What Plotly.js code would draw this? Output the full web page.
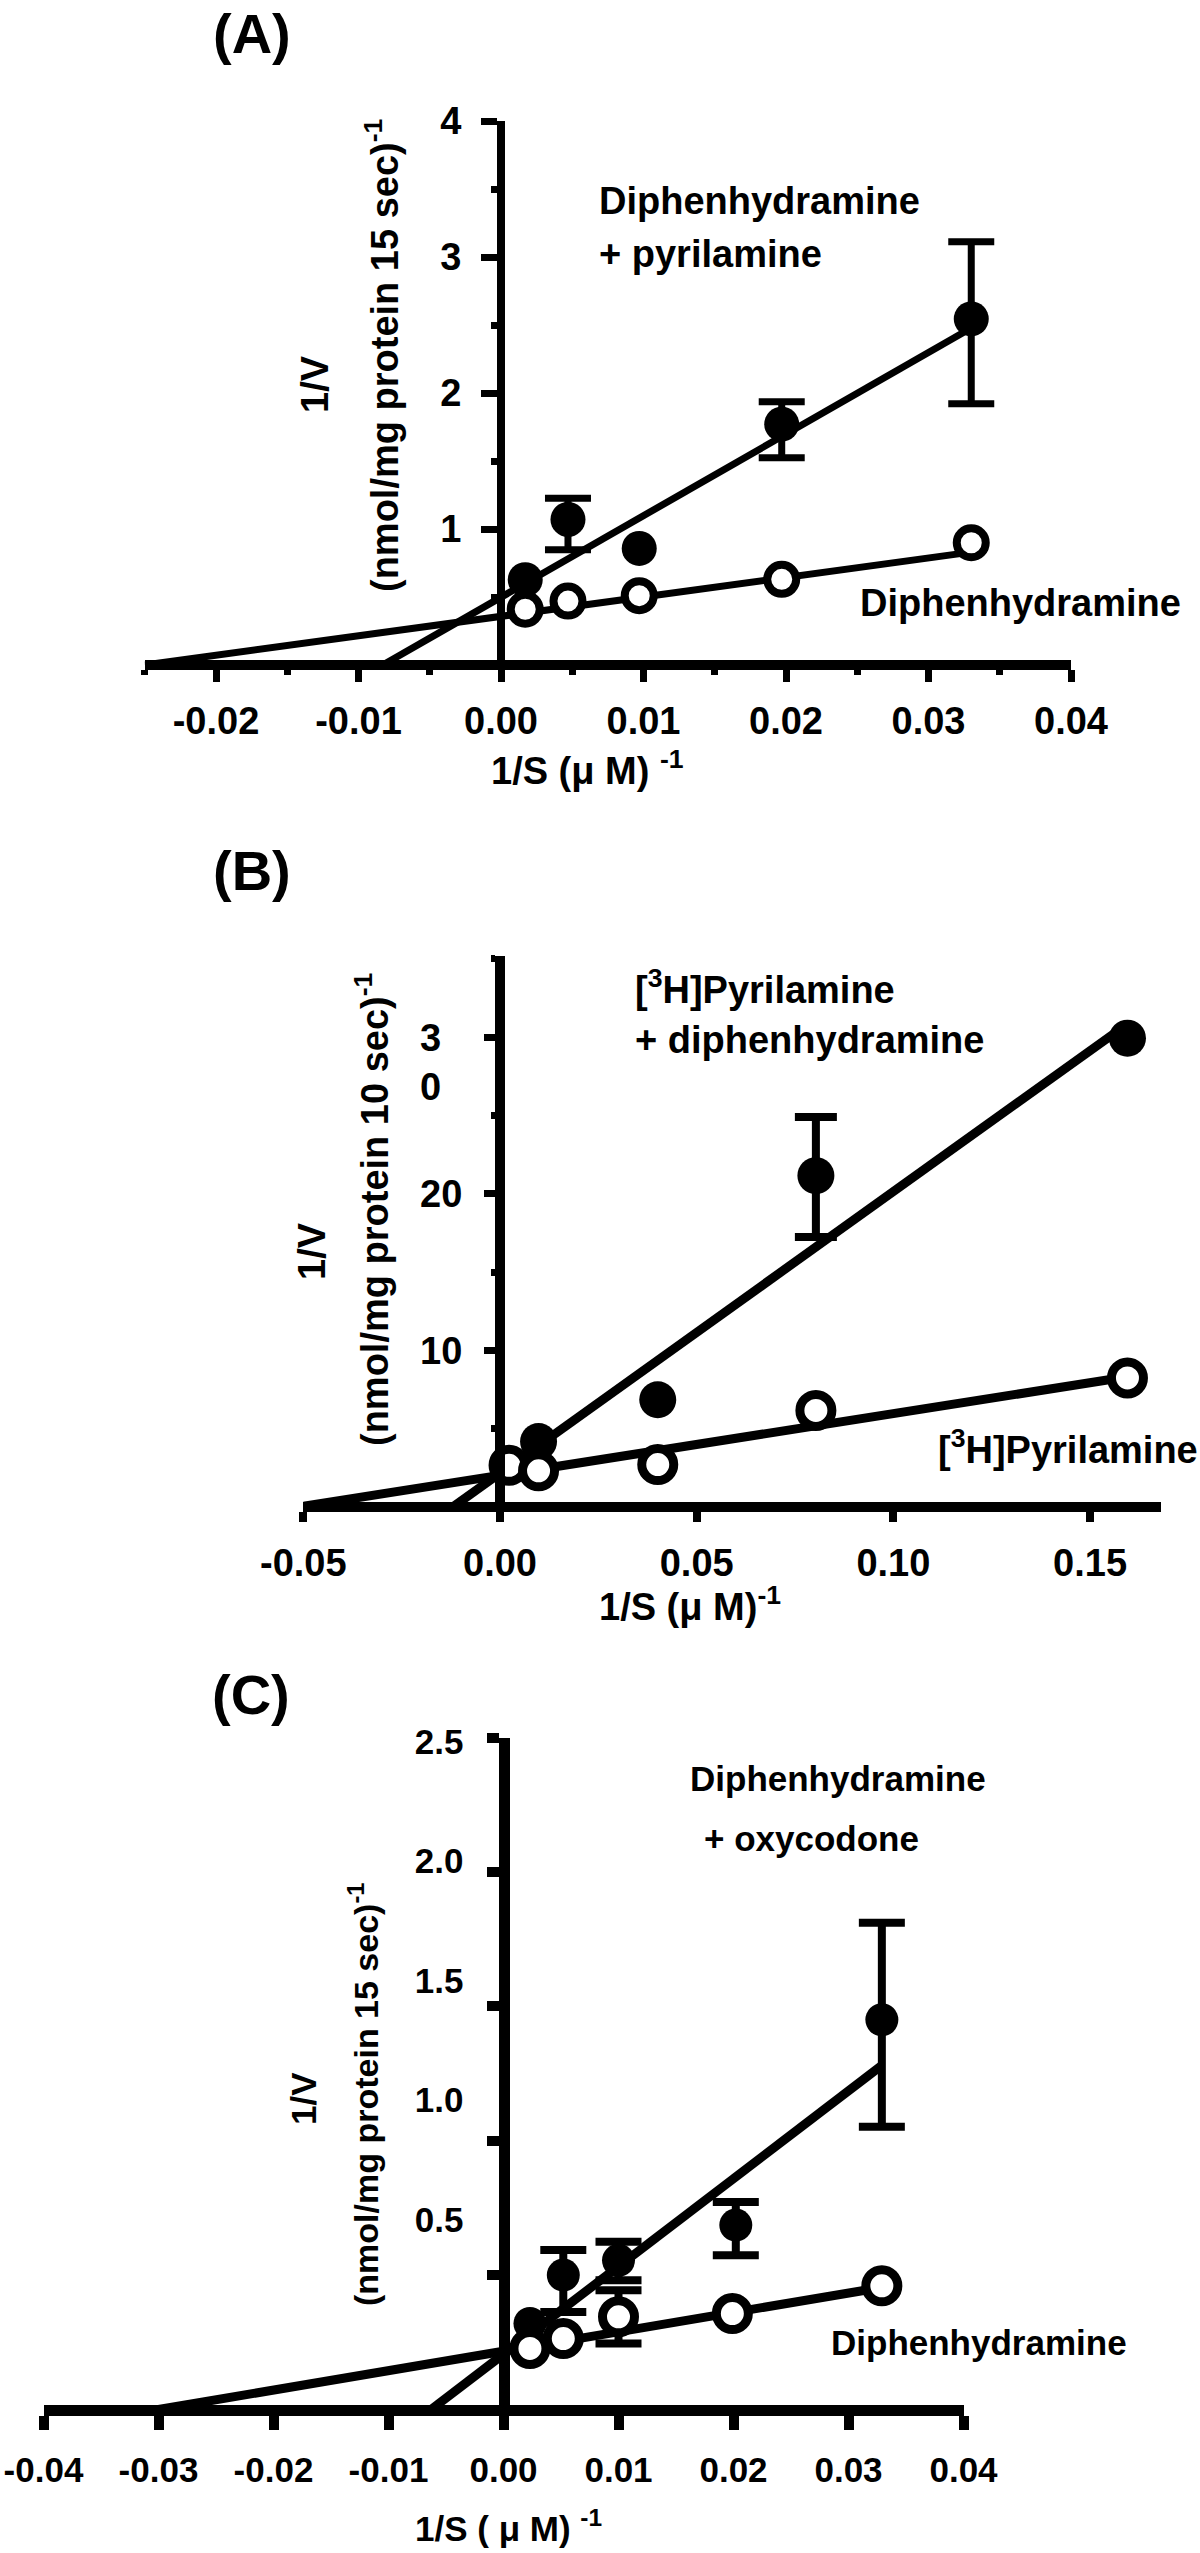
<!DOCTYPE html>
<html>
<head>
<meta charset="utf-8">
<script src="https://cdn.plot.ly/plotly-3.0.1.min.js"></script>
<style>
  body { margin: 0; background: #fff; }
  #plot { width: 1200px; height: 2553px; }
</style>
</head>
<body>
<div id="plot"></div>
<script>
// Panel A - diphenhydramine uptake, with and without pyrilamine
var aX = [0.0017, 0.0047, 0.0097, 0.0197, 0.033];
var aFilled = [0.627, 1.07, 0.857, 1.771, 2.545];
var aFilledUp = [NaN, 0.156, NaN, 0.165, 0.568];
var aFilledDown = [NaN, 0.222, NaN, 0.248, 0.624];
var aOpen = [0.41, 0.47, 0.51, 0.63, 0.899];
var aFitFilledX = [-0.0083, 0.033];
var aFitFilledY = [0, 2.478];
var aFitOpenX = [-0.025, 0.033];
var aFitOpenY = [0, 0.83];
var aXTicks = [-0.02, -0.01, 0, 0.01, 0.02, 0.03, 0.04];
var aXLabels = ['-0.02', '-0.01', '0.00', '0.01', '0.02', '0.03', '0.04'];
var aYTicks = [1, 2, 3, 4];
var aYLabels = ['1', '2', '3', '4'];

// Panel B - [3H]pyrilamine uptake, with and without diphenhydramine
var bFilledX = [0.0098, 0.0401, 0.0803, 0.1595];
var bFilled = [4.18, 6.85, 21.16, 29.94];
var bFilledUp = [NaN, NaN, 3.74, NaN];
var bFilledDown = [NaN, NaN, 3.91, NaN];
var bOpenX = [0.0023, 0.0098, 0.0401, 0.0803, 0.1595];
var bOpen = [2.66, 2.31, 2.71, 6.17, 8.24];
var bFitFilledX = [-0.012, 0.159];
var bFitFilledY = [0, 30.76];
var bFitOpenX = [-0.05, 0.16];
var bFitOpenY = [0.05, 8.33];
var bXTicks = [-0.05, 0, 0.05, 0.1, 0.15];
var bXLabels = ['-0.05', '0.00', '0.05', '0.10', '0.15'];
var bYTicks = [10, 20, 30];
// the 30 label is split over two lines in the original
var bYLabels = ['10', '20', '\u00a0<br>3\u2007<br>0\u2007'];

// Panel C - diphenhydramine uptake, with and without oxycodone
var cFilledX = [0.0023, 0.0052, 0.0100, 0.0202, 0.0329];
var cFilled = [0.32, 0.50, 0.555, 0.686, 1.45];
var cFilledUp = [NaN, 0.093, 0.069, 0.086, 0.361];
var cFilledDown = [NaN, 0.137, 0.074, 0.112, 0.398];
var cOpenX = [0.0023, 0.0052, 0.0100, 0.0199, 0.0329];
var cOpen = [0.227, 0.264, 0.345, 0.357, 0.46];
var cOpenUp = [NaN, NaN, 0.099, NaN, NaN];
var cOpenDown = [NaN, NaN, 0.099, NaN, NaN];
var cFitFilledX = [-0.0063, 0.0329];
var cFitFilledY = [0, 1.28];
var cFitOpenX = [-0.030, 0.033];
var cFitOpenY = [0, 0.455];
var cXTicks = [-0.04, -0.03, -0.02, -0.01, 0, 0.01, 0.02, 0.03, 0.04];
var cXLabels = ['-0.04', '-0.03', '-0.02', '-0.01', '0.00', '0.01', '0.02', '0.03', '0.04'];
var cYTicks = [0.5, 1, 1.5, 2, 2.5];
var cYLabels = ['0.5', '1.0', '1.5', '2.0', '2.5'];

var W = 1200, H = 2553;
var black = '#000';
var family = 'Liberation Sans, Arial, Helvetica, sans-serif';

function fx(p) { return p / W; }
function fy(p) { return 1 - p / H; }

function fit(x, y, ax, ay, w) {
  return {x: x, y: y, xaxis: ax, yaxis: ay, mode: 'lines',
    line: {color: black, width: w}, hoverinfo: 'skip', showlegend: false};
}

function points(x, y, up, down, ax, ay, open, size, lw, ew, cap) {
  var t = {x: x, y: y, xaxis: ax, yaxis: ay, mode: 'markers', cliponaxis: false, showlegend: false,
    marker: {symbol: 'circle', size: size, color: open ? '#fff' : black,
      line: {color: black, width: open ? lw : 0}}};
  if (up) {
    t.error_y = {type: 'data', symmetric: false, array: up, arrayminus: down,
      color: black, thickness: ew, width: cap};
  }
  return t;
}

function axis(o, fs) {
  var base = {anchor: 'free', showline: true, linecolor: black, ticks: 'outside',
    tickcolor: black, showgrid: false, zeroline: false, tickmode: 'array',
    tickfont: {family: family, size: fs, color: black, weight: 'bold'}};
  for (var k in o) base[k] = o[k];
  return base;
}

var data = [
  fit(aFitFilledX, aFitFilledY, 'x', 'y', 7),
  fit(aFitOpenX, aFitOpenY, 'x', 'y', 7),
  points(aX, aFilled, aFilledUp, aFilledDown, 'x', 'y', false, 35, 0, 7, 23),
  points(aX, aOpen, null, null, 'x', 'y', true, 29, 8, 7, 23),

  fit(bFitFilledX, bFitFilledY, 'x2', 'y2', 9),
  fit(bFitOpenX, bFitOpenY, 'x2', 'y2', 9),
  points(bFilledX, bFilled, bFilledUp, bFilledDown, 'x2', 'y2', false, 37, 0, 8, 21),
  points(bOpenX, bOpen, null, null, 'x2', 'y2', true, 32, 9, 8, 21),

  fit(cFitFilledX, cFitFilledY, 'x3', 'y3', 9),
  fit(cFitOpenX, cFitOpenY, 'x3', 'y3', 9),
  points(cFilledX, cFilled, cFilledUp, cFilledDown, 'x3', 'y3', false, 33, 0, 8, 23),
  points(cOpenX, cOpen, cOpenUp, cOpenDown, 'x3', 'y3', true, 32, 9, 8, 23),
  // carries the label-only axis of panel C
  {x: [null], y: [null], xaxis: 'x3', yaxis: 'y4', mode: 'markers', showlegend: false, hoverinfo: 'skip'}
];

function note(text, x, y, xref, yref, size, xanchor, angle) {
  return {text: text, x: x, y: y, xref: xref, yref: yref, showarrow: false,
    xanchor: xanchor || 'left', yanchor: 'middle', textangle: angle || 0,
    font: {family: family, size: size, color: black, weight: 'bold'}};
}

var annotations = [
  note('(A)', fx(252), fy(33), 'paper', 'paper', 56, 'center'),
  note('Diphenhydramine', 0.00674, 3.41, 'x', 'y', 38),
  note('+ pyrilamine', 0.00674, 3.02, 'x', 'y', 38),
  note('Diphenhydramine', 0.02505, 0.454, 'x', 'y', 38),
  note('1/S (\u03bc M) <sup>-1</sup>', fx(587), fy(768), 'paper', 'paper', 38, 'center'),
  note('1/V', fx(315), fy(384), 'paper', 'paper', 38, 'center', -90),
  note('(nmol/mg protein 15 sec)<sup>-1</sup>', fx(382), fy(355), 'paper', 'paper', 38, 'center', -90),

  note('(B)', fx(252), fy(870), 'paper', 'paper', 56, 'center'),
  note('[<sup>3</sup>H]Pyrilamine', 0.0337, 33.19, 'x2', 'y2', 38),
  note('+ diphenhydramine', 0.0337, 29.81, 'x2', 'y2', 38),
  note('[<sup>3</sup>H]Pyrilamine', 0.1108, 3.83, 'x2', 'y2', 38),
  note('1/S (\u03bc M)<sup>-1</sup>', fx(690), fy(1604), 'paper', 'paper', 38, 'center'),
  note('1/V', fx(312), fy(1251), 'paper', 'paper', 38, 'center', -90),
  note('(nmol/mg protein 10 sec)<sup>-1</sup>', fx(372), fy(1209), 'paper', 'paper', 38, 'center', -90),

  note('(C)', fx(251), fy(1694), 'paper', 'paper', 56, 'center'),
  note('Diphenhydramine', 0.01603, 2.348, 'x3', 'y3', 35),
  note('+ oxycodone', 0.01725, 2.125, 'x3', 'y3', 35),
  note('Diphenhydramine', 0.02829, 0.249, 'x3', 'y3', 35),
  note('1/S ( \u03bc M) <sup>-1</sup>', fx(508), fy(2526), 'paper', 'paper', 35, 'center'),
  note('1/V', fx(303), fy(2099), 'paper', 'paper', 35, 'center', -90),
  note('(nmol/mg protein 15 sec)<sup>-1</sup>', fx(363), fy(2094), 'paper', 'paper', 34, 'center', -90)
];

var layout = {
  width: W,
  height: H,
  margin: {l: 0, r: 0, t: 0, b: 0},
  paper_bgcolor: '#fff',
  plot_bgcolor: '#fff',
  showlegend: false,
  font: {family: family, color: black},

  xaxis: axis({domain: [fx(144.75), fx(1071)], range: [-0.025, 0.04], position: fy(665),
    tickvals: aXTicks, ticktext: aXLabels, ticklen: 12, tickwidth: 7, linewidth: 10, ticklabelstandoff: 6,
    minor: {tickmode: 'linear', tick0: 0, dtick: 0.005, ticks: 'outside', ticklen: 5, tickwidth: 7, tickcolor: black}}, 38),
  yaxis: axis({domain: [fy(665), fy(121)], range: [0, 4], position: fx(501),
    tickvals: aYTicks, ticktext: aYLabels, ticklen: 16, tickwidth: 7, linewidth: 8, ticklabelstandoff: 12,
    minor: {tickmode: 'linear', tick0: 0, dtick: 0.5, ticks: 'outside', ticklen: 6, tickwidth: 7, tickcolor: black}}, 38),

  xaxis2: axis({domain: [fx(303.3), fx(1160.9)], range: [-0.05, 0.168], position: fy(1507),
    tickvals: bXTicks, ticktext: bXLabels, ticklen: 10, tickwidth: 8, linewidth: 10, ticklabelstandoff: 8}, 38),
  yaxis2: axis({domain: [fy(1507), fy(955.8)], range: [0, 35.2], position: fx(500),
    tickvals: bYTicks, ticktext: bYLabels, ticklen: 11, tickwidth: 7, linewidth: 10, ticklabelstandoff: 14,
    minor: {tickmode: 'linear', tick0: 0, dtick: 5, ticks: 'outside', ticklen: 4, tickwidth: 7, tickcolor: black}}, 38),

  xaxis3: axis({domain: [fx(43.5), fx(963.5)], range: [-0.04, 0.04], position: fy(2409.5),
    tickvals: cXTicks, ticktext: cXLabels, ticklen: 14, tickwidth: 10, linewidth: 11, ticklabelstandoff: 10}, 35),
  yaxis3: axis({domain: [fy(2409.5), fy(1737.5)], range: [0, 2.5], position: fx(503.5),
    tickvals: cYTicks, showticklabels: false, ticklen: 12, tickwidth: 10, linewidth: 11}, 35),
  // labels of panel C sit on their own scale, a little off the tick marks
  yaxis4: axis({overlaying: 'y3', range: [-0.2936, 2.5169], position: fx(503.5),
    tickvals: cYTicks, ticktext: cYLabels, ticks: '', showline: false, ticklabelstandoff: 40}, 35),

  annotations: annotations
};

Plotly.newPlot('plot', data, layout, {displayModeBar: false, staticPlot: true});
</script>
</body>
</html>
